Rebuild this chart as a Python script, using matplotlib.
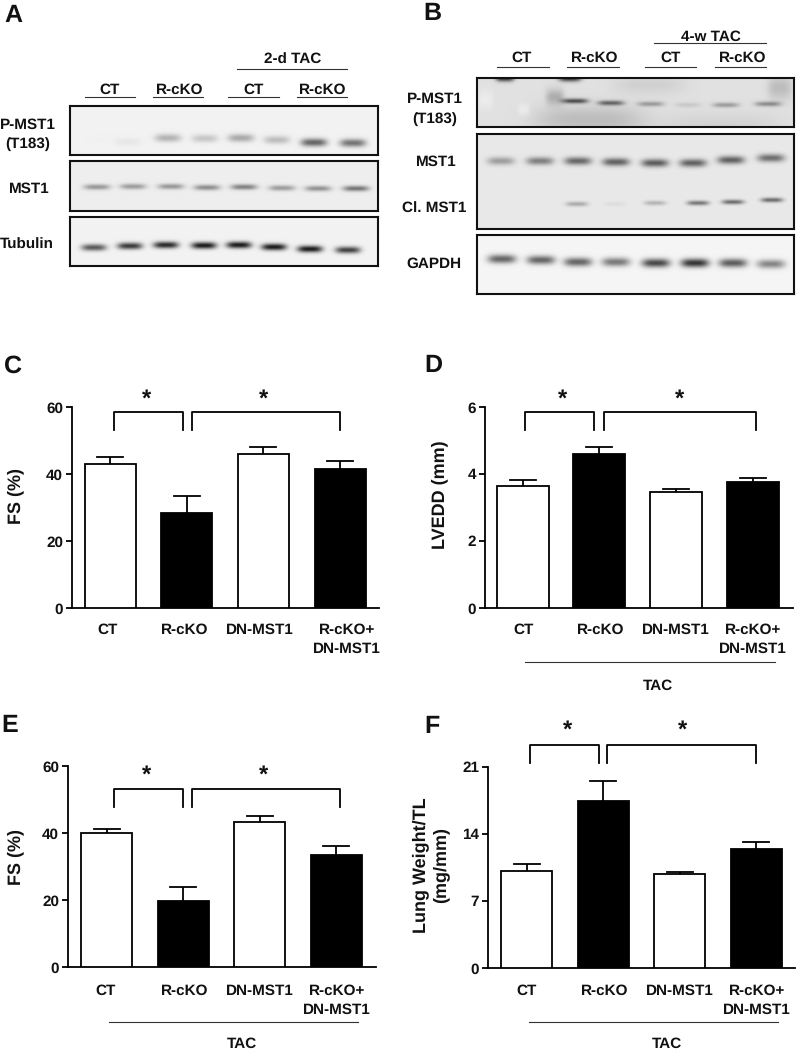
import numpy as np
import matplotlib
matplotlib.use('Agg')
import matplotlib.pyplot as plt

plt.rcParams['font.family'] = ['Liberation Sans', 'DejaVu Sans']
plt.rcParams['font.weight'] = 'bold'
plt.rcParams['text.hinting'] = 'no_hinting'

W, H = 796, 1050

# ---------- bar chart data ----------
groups = ['CT', 'R-cKO', 'DN-MST1', 'R-cKO+\nDN-MST1']
fs_c = [43.0, 28.5, 46.0, 41.5]
fs_c_top = [45.0, 33.5, 48.0, 44.0]
lvedd = [3.63, 4.60, 3.45, 3.75]
lvedd_top = [3.82, 4.80, 3.55, 3.88]
fs_e = [40.0, 19.7, 43.2, 33.3]
fs_e_top = [41.2, 23.8, 45.2, 36.2]
lung = [10.1, 17.5, 9.8, 12.4]
lung_top = [10.9, 19.5, 10.05, 13.2]

# ---------- blot band densities (0 = none, 1 = black) ----------
a_pmst1 = [0.01, 0.05, 0.26, 0.18, 0.30, 0.22, 0.58, 0.52]
a_mst1 = [0.36, 0.34, 0.36, 0.40, 0.45, 0.34, 0.38, 0.50]
a_tubulin = [0.62, 0.75, 0.82, 0.88, 0.88, 0.88, 0.88, 0.72]
b_pmst1 = [0.62, 0.52, 0.30, 0.10, 0.30, 0.36]
b_mst1 = [0.32, 0.45, 0.55, 0.58, 0.60, 0.58, 0.58, 0.52]
b_cl = [0.26, 0.05, 0.22, 0.48, 0.52, 0.52]
b_gapdh = [0.58, 0.58, 0.58, 0.50, 0.70, 0.78, 0.62, 0.45]

fig = plt.figure(figsize=(W / 100, H / 100), dpi=100, facecolor='white')


def fx(x):
    return x / W


def fy(y):
    return 1 - y / H


def pix_axes(x0, x1, y0, y1):
    return fig.add_axes([fx(x0), fy(y1), (x1 - x0) / W, (y1 - y0) / H])


def label(x, yc, s, size=11, ha='center'):
    base = yc + 0.358 * size * 100 / 72
    fig.text(fx(x), fy(base), s, fontsize=size, ha=ha, va='baseline',
             fontweight='bold', color='#111111')


def hline(x0, x1, y, lw=0.8, color='#333333'):
    fig.add_artist(plt.Line2D([fx(x0), fx(x1)], [fy(y), fy(y)], lw=lw, color=color))


def bracket(x0, x1, ytop, ybot):
    fig.add_artist(plt.Line2D([fx(x0), fx(x0), fx(x1), fx(x1)],
                              [fy(ybot), fy(ytop), fy(ytop), fy(ybot)],
                              lw=1.3, color='black', solid_joinstyle='round'))


def star(x, yc):
    fig.text(fx(x), fy(yc + 8.5), '*', fontsize=17, ha='center', va='baseline',
             fontweight='bold', color='#111111')


def bar_panel(left, right, top, base, first, step, width, vals, tops, ymax, yticks,
              ylab, ylab_x, ylab_y, label_x, label_y):
    ax = pix_axes(left, right, top, base)
    ax.set_xlim((left - first) / step, (right - first) / step)
    ax.set_ylim(0, ymax)
    pos = np.arange(len(groups))
    colors = ['white', 'black', 'white', 'black']
    ax.bar(pos, vals, width=width / step, color=colors, edgecolor='black', linewidth=1.3, zorder=3)
    for p, v, t in zip(pos, vals, tops):
        ax.plot([p, p], [v, t], color='black', lw=1.3, zorder=2, solid_capstyle='butt')
        ax.plot([p - 13 / step, p + 13 / step], [t, t], color='black', lw=1.3, zorder=2)
    for s in ['top', 'right']:
        ax.spines[s].set_visible(False)
    for s in ['left', 'bottom']:
        ax.spines[s].set_linewidth(1.3)
    ax.set_yticks(yticks)
    ax.set_yticklabels([str(t) for t in yticks], fontsize=11, fontweight='bold', color='#111111')
    ax.tick_params(axis='y', length=4.5, width=1.3, pad=2)
    ax.set_xticks([])
    ax.patch.set_alpha(0)
    ax.set_ylabel(ylab, fontsize=13, fontweight='bold', color='#111111', linespacing=1.2,
                  va='center', ha='center')
    ax.yaxis.set_label_coords(fx(ylab_x), fy(ylab_y), transform=fig.transFigure)
    for x, g in zip(label_x, groups):
        lines = g.split('\n')
        for i, ln in enumerate(lines):
            label(x, label_y + 19 * i, ln)
    return ax


# ---- Panels C-F ----
bar_panel(72, 379, 407, 608, 110, 76.7, 51, fs_c, fs_c_top, 60, [0, 20, 40, 60],
          'FS (%)', 16, 496, [108, 185, 260, 347], 628)
bracket(114, 183, 412, 430)
bracket(192, 340, 412, 430)
star(147, 397)
star(264, 397)

bar_panel(485, 793, 407, 608, 522.5, 76.7, 52, lvedd, lvedd_top, 6, [0, 2, 4, 6],
          'LVEDD (mm)', 440, 495, [524, 601, 676, 753], 628)
bracket(525, 594, 412, 430)
bracket(604, 756, 412, 430)
star(563, 397)
star(680, 397)
hline(525, 775, 662)
label(658, 684, 'TAC')

bar_panel(68, 376, 766, 967, 106.5, 76.5, 51, fs_e, fs_e_top, 60, [0, 20, 40, 60],
          'FS (%)', 16, 857, [106, 185, 260, 337], 989)
bracket(114, 183, 789, 807)
bracket(192, 340, 789, 807)
star(147, 773)
star(264, 773)
hline(109, 358, 1022)
label(242, 1042, 'TAC')

bar_panel(488, 795, 767, 968, 526.5, 76.5, 51, lung, lung_top, 21, [0, 7, 14, 21],
          'Lung Weight/TL\n(mg/mm)', 430.5, 865, [527, 605, 680, 757], 989)
bracket(530, 599, 745, 763)
bracket(607, 756, 745, 763)
star(568, 728)
star(683, 728)
hline(529, 778, 1022)
label(667, 1042, 'TAC')


# ---- Blots ----
def blot(x0, x1, y0, y1, bg, bands):
    xx, yy = np.meshgrid(np.arange(x0, x1) + 0.5, np.arange(y0, y1) + 0.5)
    dark = np.zeros_like(xx, dtype=float)
    for cx, cy, d, hw, sy in bands:
        dark += d * np.exp(-np.abs((xx - cx) / hw) ** 3.5) * np.exp(-((yy - cy) / sy) ** 2)
    img = np.clip(bg - dark * bg, 0, 1)
    ax = pix_axes(x0, x1, y0, y1)
    ax.imshow(img, cmap='gray', vmin=0, vmax=1, aspect='auto', interpolation='bilinear',
              extent=(x0, x1, y1, y0))
    ax.set_xticks([])
    ax.set_yticks([])
    for s in ax.spines.values():
        s.set_linewidth(1.5)
        s.set_color('#111111')


def lane_bands(xs, ys, ds, hw, sy):
    return [(x, y, d, hw, sy) for x, y, d in zip(xs, ys, ds)]


blot(70, 378, 106, 155, 0.95,
     lane_bands([100, 128, 168, 205, 241, 277, 314, 353],
                [140, 142, 138, 138.5, 138, 140, 142.5, 143], a_pmst1, 13, 4.0))
blot(70, 378, 161, 211, 0.93,
     lane_bands([97, 133, 171, 207, 244, 282, 318, 356],
                [187, 186.5, 186.5, 187.5, 187, 188, 188.5, 188.5], a_mst1, 13, 2.8))
blot(70, 378, 217, 266, 0.95,
     lane_bands([94, 130, 166, 204, 239, 274, 310, 348],
                [247.5, 246, 245, 245.5, 245, 247, 249, 250], a_tubulin, 12.5, 3.4))

smudges = [(505, 78, 0.8, 9, 3.5), (570, 78, 0.8, 11, 3.5), (555, 97, 0.22, 9, 8),
           (590, 120, 0.16, 55, 14), (780, 88, 0.16, 12, 12), (650, 85, 0.07, 35, 10),
           (720, 125, 0.06, 60, 12), (486, 100, -0.05, 8, 10), (524, 110, -0.06, 6, 6)]
blot(477, 794, 78, 127, 0.88,
     smudges + lane_bands([575, 611, 651, 688, 726, 768],
                          [101, 103, 104, 105, 105, 104], b_pmst1, 13, 2.5))
blot(477, 794, 134, 229, 0.91,
     lane_bands([501, 540, 578, 616, 655, 693, 731, 771],
                [161, 161, 161, 162, 163, 163, 160, 158], b_mst1, 13.5, 4.0)
     + lane_bands([577, 615, 655, 698, 733, 772],
                  [204, 204, 203, 203, 202, 200], b_cl, 11, 2.4))
blot(477, 794, 235, 294, 0.96,
     lane_bands([502, 541, 578, 616, 656, 695, 733, 771],
                [259, 260, 262, 262, 263, 263, 263, 264], b_gapdh, 14, 4.4))

# ---- Blot annotations ----
label(110, 88, 'CT')
hline(85, 135, 97)
label(180, 88, 'R-cKO')
hline(153, 203, 97)
label(254, 88, 'CT')
hline(228, 279, 97)
label(323, 88, 'R-cKO')
hline(297, 347, 97)
label(293, 58, '2-d TAC')
hline(237, 347, 69)
label(28, 123, 'P-MST1')
label(28, 142, '(T183)')
label(29, 187, 'MST1')
label(27, 243, 'Tubulin')

label(522, 56, 'CT')
hline(497, 549, 67)
label(595, 56, 'R-cKO')
hline(567, 619, 67)
label(671, 56, 'CT')
hline(645, 696, 67)
label(743, 56, 'R-cKO')
hline(715, 766, 67)
label(711, 35, '4-w TAC')
hline(654, 766, 43)
label(435, 97, 'P-MST1')
label(435, 117, '(T183)')
label(436, 160, 'MST1')
label(434, 207, 'Cl. MST1')
label(434, 262, 'GAPDH')

# ---- Panel letters ----
for x, y, s in [(13, 13, 'A'), (432, 11, 'B'), (13, 364, 'C'), (433, 363, 'D'),
                (10, 723, 'E'), (432, 724, 'F')]:
    label(x, y, s, size=18)

fig.savefig('out.png', dpi=100)
